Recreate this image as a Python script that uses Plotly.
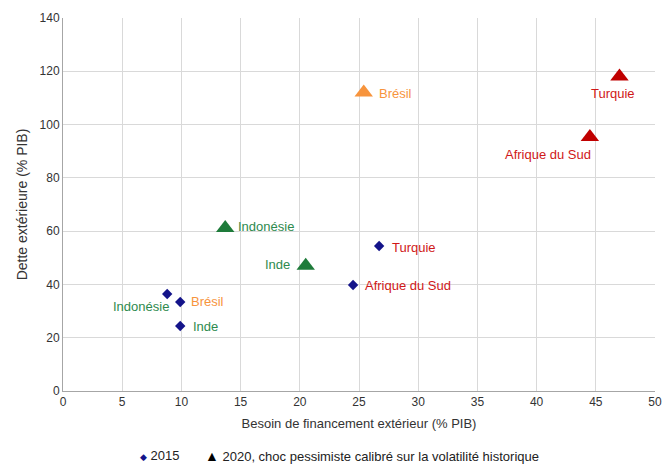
import plotly.graph_objects as go

# Countries and their values (% of GDP)
countries = ["Indonésie", "Brésil", "Inde", "Turquie", "Afrique du Sud"]
besoin_2015 = [8.8, 9.9, 9.9, 26.7, 24.5]
dette_2015 = [36.4, 33.4, 24.4, 54.4, 39.8]
besoin_2020 = [13.7, 25.4, 20.5, 47.0, 44.5]
dette_2020 = [61.2, 112.0, 47.0, 118.0, 95.3]

x_ticks = [0, 5, 10, 15, 20, 25, 30, 35, 40, 45, 50]
y_ticks = [0, 20, 40, 60, 80, 100, 120, 140]

GREEN_MARK = "#1E7B3A"
GREEN_TEXT = "#2E8A4E"
ORANGE = "#F7943D"
RED_MARK = "#C00000"
RED_TEXT = "#D01818"
NAVY = "#14148A"

mark_color = {"Indonésie": GREEN_MARK, "Inde": GREEN_MARK, "Brésil": ORANGE,
              "Turquie": RED_MARK, "Afrique du Sud": RED_MARK}
text_color = {"Indonésie": GREEN_TEXT, "Inde": GREEN_TEXT, "Brésil": ORANGE,
              "Turquie": RED_TEXT, "Afrique du Sud": RED_TEXT}

# label placement: (xanchor, xshift, yshift)
place_2015 = {"Indonésie": ("right", 4, -12), "Brésil": ("left", 9, 1),
              "Inde": ("left", 11, -1), "Turquie": ("left", 11, -1),
              "Afrique du Sud": ("left", 10, -1)}
place_2020 = {"Indonésie": ("left", 11, 1), "Brésil": ("left", 13, -1),
              "Inde": ("right", -14, 1), "Turquie": ("center", -6, -17),
              "Afrique du Sud": ("right", 3, -17)}

FONT = "Liberation Sans, Arial, sans-serif"
LABEL_SIZE = 13

fig = go.Figure()

fig.add_trace(go.Scatter(
    x=besoin_2015, y=dette_2015, mode="markers", showlegend=False,
    marker=dict(symbol="diamond", size=8, color=NAVY), cliponaxis=False))

fig.add_trace(go.Scatter(
    x=besoin_2020, y=dette_2020, mode="markers", showlegend=False,
    marker=dict(symbol="triangle-up", size=16,
                color=[mark_color[c] for c in countries]), cliponaxis=False))

annotations = []
for c, x, y in zip(countries, besoin_2015, dette_2015):
    anc, xs, ys = place_2015[c]
    annotations.append(dict(x=x, y=y, text=c, showarrow=False, xanchor=anc,
                            yanchor="middle", xshift=xs, yshift=ys,
                            font=dict(color=text_color[c], size=LABEL_SIZE, family=FONT)))
for c, x, y in zip(countries, besoin_2020, dette_2020):
    anc, xs, ys = place_2020[c]
    annotations.append(dict(x=x, y=y, text=c, showarrow=False, xanchor=anc,
                            yanchor="middle", xshift=xs, yshift=ys,
                            font=dict(color=text_color[c], size=LABEL_SIZE, family=FONT)))

# series key below the axis title (pixel positions converted to paper units)
PLOT_L, PLOT_W = 63, 592
PLOT_T, PLOT_B = 18, 391
def px_to_paper_x(px):
    return (px - PLOT_L) / PLOT_W
def px_to_paper_y(py):
    return (PLOT_B - py) / (PLOT_B - PLOT_T)

legend_items = [
    (138, "<span style='color:%s;font-size:9px'>◆</span> 2015" % NAVY),
    (203, "<span style='color:black;font-size:14px'>▲</span> 2020, choc pessimiste "
          "calibré sur la volatilité historique"),
]
for px, txt in legend_items:
    annotations.append(dict(x=px_to_paper_x(px), xref="paper",
                            y=px_to_paper_y(456), yref="paper",
                            text=txt, showarrow=False, xanchor="left",
                            yanchor="middle",
                            font=dict(size=13, color="#222222", family=FONT)))

fig.update_layout(
    width=668, height=465,
    margin=dict(l=PLOT_L, r=668 - PLOT_L - PLOT_W, t=PLOT_T, b=465 - PLOT_B),
    paper_bgcolor="white", plot_bgcolor="white",
    font=dict(family=FONT, size=12, color="#333333"),
    annotations=annotations,
    showlegend=False,
    xaxis=dict(range=[0, 50], tickvals=x_ticks, showgrid=True, gridcolor="#D9D9D9",
               showline=True, linecolor="#A6A6A6", zeroline=False, ticks="",
               automargin=False,
               title=dict(text="Besoin de financement extérieur (% PIB)",
                          font=dict(size=13), standoff=10)),
    yaxis=dict(range=[0, 140], tickvals=y_ticks, showgrid=True, gridcolor="#D9D9D9",
               showline=True, linecolor="#A6A6A6", zeroline=False, ticks="",
               automargin=False,
               title=dict(text="Dette extérieure (% PIB)", font=dict(size=14),
                          standoff=8)),
)

fig.write_html("out.html")
